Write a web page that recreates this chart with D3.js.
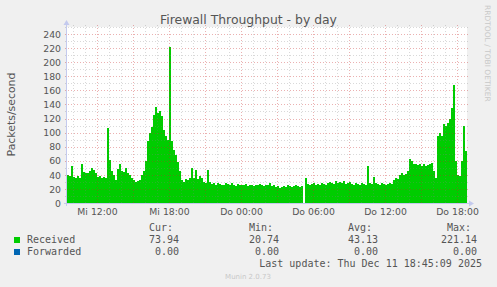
<!DOCTYPE html>
<html>
<head>
<meta charset="utf-8">
<script src="https://cdn.jsdelivr.net/npm/d3@7"></script>
<style>
  html, body { margin: 0; padding: 0; background: #f0f0f0; }
  svg { display: block; }
  text { font-family: "DejaVu Sans", sans-serif; fill: #555; }
  .mono { font-family: "DejaVu Sans Mono", monospace; }
</style>
</head>
<body>
<script>
// received packets/s, one value per 10 minutes, starting Wed 09:30
const received = [
  40, 38, 52, 37, 36, 38, 35, 55, 44, 42, 43, 46, 50, 47, 42, 37, 38, 35, 37, 36,
  107, 61, 45, 40, 33, 48, 55, 46, 44, 50, 42, 40, 35, 32, 30, 31, 33, 40, 46, 60,
  88, 100, 108, 125, 137, 128, 130, 124, 104, 95, 90, 221, 88, 75, 68, 58, 45, 33, 30, 34,
  33, 35, 50, 36, 47, 34, 38, 36, 30, 28, 47, 30, 27, 28, 26, 29, 27, 25, 26, 28,
  27, 25, 28, 26, 24, 27, 25, 26, 25, 27, 24, 26, 25, 24, 26, 25, 27, 25, 24, 26,
  25, 29, 24, 25, 23, 24, 22, 23, 24, 23, 25, 24, 23, 24, 25, 24, 23, 24, null, 36,
  27, 26, 27, 28, 26, 27, 26, 28, 27, 26, 28, 30, 29, 27, 31, 28, 30, 29, 31, 27,
  28, 30, 27, 26, 28, 27, 26, 28, 27, 26, 52, 28, 27, 37, 28, 27, 26, 28, 27, 26,
  27, 28, 27, 33, 35, 34, 40, 42, 40, 41, 45, 63, 60, 56, 55, 54, 56, 53, 55, 52,
  54, 55, 57, 45, 35, 95, 100, 95, 112, 110, 114, 120, 135, 168, 60, 40, 38, 60, 109, 74
];

const seriesNames = ["Received", "Forwarded"];
const seriesColors = ["#00cc00", "#0066b3"];
const legendHeaders = ["Cur:", "Min:", "Avg:", "Max:"];
const legendValues = [
  ["73.94", "20.74", "43.13", "221.14"],
  ["0.00", "0.00", "0.00", "0.00"]
];
const shortDays = ["So", "Mo", "Di", "Mi", "Do", "Fr", "Sa"];
const yTicks = d3.range(0, 241, 20);

const title = "Firewall Throughput - by day";
const yLabel = "Packets/second";
const lastUpdate = "Last update: Thu Dec 11 18:45:09 2025";
const version = "Munin 2.0.73";
const watermark = "RRDTOOL / TOBI OETIKER";

const width = 497, height = 287;
const start = new Date(2025, 11, 10, 9, 30);
const stepMin = 10;
const end = d3.timeMinute.offset(start, 2000);

const x = d3.scaleTime().domain([start, end]).range([67, 467]);
const y = d3.scaleLinear().domain([0, 250]).range([203, 27]);

const svg = d3.select("body").append("svg")
    .attr("width", width)
    .attr("height", height);

// plot background
svg.append("rect")
    .attr("x", x.range()[0]).attr("y", y.range()[1])
    .attr("width", x.range()[1] - x.range()[0])
    .attr("height", y.range()[0] - y.range()[1])
    .attr("fill", "#fff");

// data columns
const cols = received.map((v, i) => ({
  t0: d3.timeMinute.offset(start, i * stepMin),
  t1: d3.timeMinute.offset(start, (i + 1) * stepMin),
  v: v
})).filter(d => d.v != null);

svg.append("g")
    .attr("shape-rendering", "crispEdges")
  .selectAll("rect")
  .data(cols)
  .join("rect")
    .attr("x", d => x(d.t0))
    .attr("width", d => x(d.t1) - x(d.t0))
    .attr("y", d => y(d.v))
    .attr("height", d => y(0) - y(d.v))
    .attr("fill", seriesColors[0]);

// grid on top, rrdtool style
const grid = svg.append("g").attr("shape-rendering", "crispEdges");
const minorCol = "rgba(128,128,128,0.3)";
const majorCol = "rgba(200,40,40,0.36)";
const [x0, x1] = x.range();
const [yb, yt] = y.range();

d3.range(0, 251, 10).forEach(v => {
  if (v === 0) return;
  grid.append("line")
      .attr("x1", x0 - 2).attr("x2", x1 + 2)
      .attr("y1", Math.round(y(v)) + 0.5).attr("y2", Math.round(y(v)) + 0.5)
      .attr("stroke", v % 20 === 0 ? majorCol : minorCol)
      .attr("stroke-dasharray", "1,2");
});

x.ticks(d3.timeHour.every(1)).forEach(t => {
  const px = Math.round(x(t)) + 0.5;
  const major = t.getHours() % 3 === 0;
  grid.append("line")
      .attr("x1", px).attr("x2", px)
      .attr("y1", yt - 2).attr("y2", yb + 2)
      .attr("stroke", major ? majorCol : minorCol)
      .attr("stroke-dasharray", "1,2");
});

// axes lines with arrows
const axisCol = "#c4caee";
svg.append("line")
    .attr("x1", x0 - 0.5).attr("x2", x0 - 0.5)
    .attr("y1", yt - 2).attr("y2", yb + 3)
    .attr("stroke", axisCol);
svg.append("line")
    .attr("x1", x0 - 3).attr("x2", x1 + 2)
    .attr("y1", yb + 0.5).attr("y2", yb + 0.5)
    .attr("stroke", axisCol);
svg.append("path")
    .attr("d", `M${x0 - 3.5},${yt - 2} L${x0 + 2.5},${yt - 2} L${x0 - 0.5},${yt - 7} Z`)
    .attr("fill", axisCol);
svg.append("path")
    .attr("d", `M${x1 + 2},${yb - 2.5} L${x1 + 2},${yb + 3.5} L${x1 + 7},${yb + 0.5} Z`)
    .attr("fill", axisCol);

// y axis labels
const yAxis = svg.append("g")
    .attr("transform", `translate(${x0 - 6},0)`)
    .call(d3.axisLeft(y).tickValues(yTicks).tickSize(0).tickPadding(0));
yAxis.select(".domain").remove();
yAxis.selectAll("text")
    .attr("font-family", "DejaVu Sans")
    .attr("font-size", "9.3px")
    .attr("dy", "0.34em")
    .style("fill", "#555");

// x axis labels
const de = d3.timeFormatLocale({
  dateTime: "%A, %e. %B %Y, %X", date: "%d.%m.%Y", time: "%H:%M:%S",
  periods: ["AM", "PM"], days: shortDays, shortDays: shortDays,
  months: d3.range(12).map(String), shortMonths: d3.range(12).map(String)
});
const xAxis = svg.append("g")
    .attr("transform", `translate(0,${yb + 5})`)
    .call(d3.axisBottom(x).ticks(d3.timeHour.every(6)).tickFormat(de.format("%a %H:%M")).tickSize(0).tickPadding(0));
xAxis.select(".domain").remove();
xAxis.selectAll("text")
    .attr("font-family", "DejaVu Sans")
    .attr("font-size", "9.3px")
    .attr("dy", "0.8em")
    .style("fill", "#555");

// title, y label, watermark
svg.append("text")
    .attr("x", 248.5).attr("y", 24)
    .attr("text-anchor", "middle")
    .attr("font-size", "12.4px")
    .text(title);

svg.append("text")
    .attr("transform", "translate(15,114.5) rotate(-90)")
    .attr("text-anchor", "middle")
    .attr("font-size", "10.9px")
    .text(yLabel);

svg.append("text")
    .attr("transform", "translate(485,5) rotate(90)")
    .attr("font-size", "7.5px")
    .style("fill", "#c8c8c8")
    .text(watermark);

// legend
const legend = svg.append("g").attr("class", "mono").attr("font-size", "10px");
const headX = [149, 249, 348, 447];
const valEnd = [179, 279, 378, 477];

legendHeaders.forEach((h, i) => {
  legend.append("text").attr("class", "mono")
      .attr("x", headX[i]).attr("y", 231).text(h);
});

seriesNames.forEach((name, r) => {
  const by = 243 + r * 12;
  legend.append("rect")
      .attr("x", 14).attr("y", by - 6).attr("width", 6).attr("height", 6)
      .attr("fill", seriesColors[r]);
  legend.append("text").attr("class", "mono")
      .attr("x", 27).attr("y", by).text(name);
  legendValues[r].forEach((v, i) => {
    legend.append("text").attr("class", "mono")
        .attr("x", valEnd[i]).attr("y", by)
        .attr("text-anchor", "end").text(v);
  });
});

legend.append("text").attr("class", "mono")
    .attr("x", 482).attr("y", 267)
    .attr("text-anchor", "end").text(lastUpdate);

svg.append("text")
    .attr("x", 248).attr("y", 279)
    .attr("text-anchor", "middle")
    .attr("font-size", "7px")
    .style("fill", "#c8c8c8")
    .text(version);
</script>
</body>
</html>
